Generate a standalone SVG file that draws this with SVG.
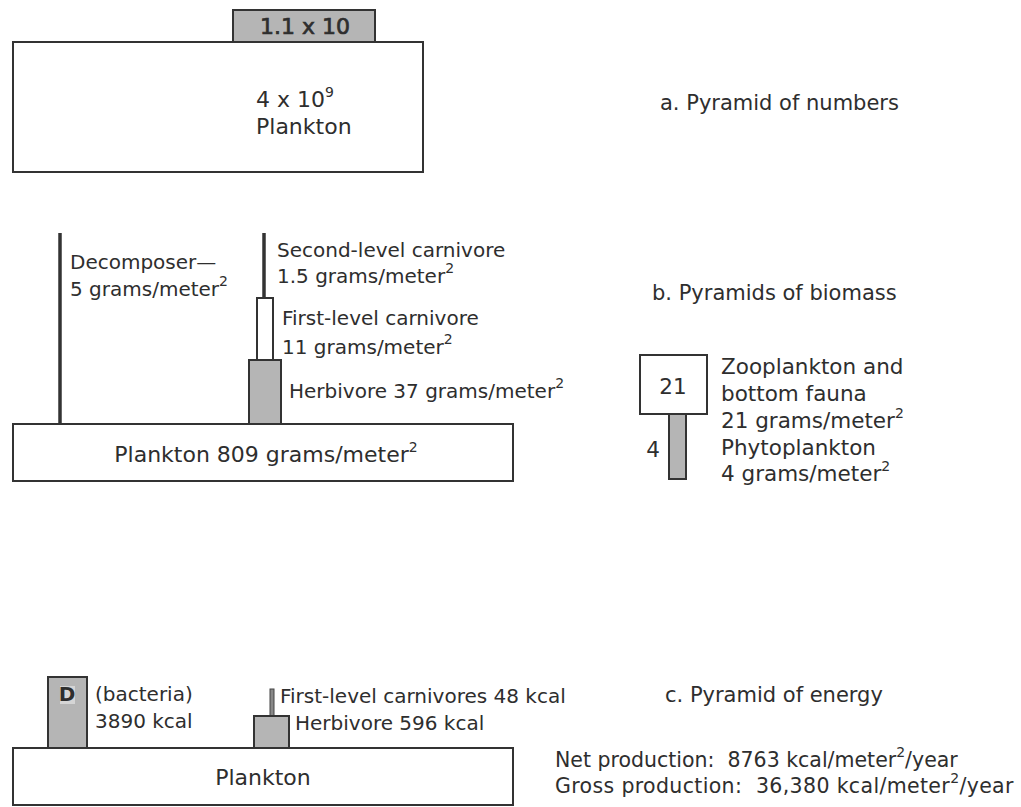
<svg xmlns="http://www.w3.org/2000/svg" width="1021" height="807" viewBox="0 0 1021 807">
<style>
text{font-family:"DejaVu Sans","Liberation Sans",sans-serif;font-size:20px;fill:#2e2e2e}
.lbl{font-size:21px}
.big{font-size:22px}
.rt{font-size:21.5px}
.box{fill:#fff;stroke:#333;stroke-width:2}
.gray{fill:#b5b5b5;stroke:#333;stroke-width:2}
.bar{stroke:#333;stroke-width:3.5}
.sup{font-size:14px}
</style>
<rect width="1021" height="807" fill="#fff"/>
<g id="numbers">
<rect id="a-top" class="gray" x="233" y="10" width="142" height="32"/>
<text x="305" y="34" text-anchor="middle" style="font-size:22px;stroke:#2e2e2e;stroke-width:0.7">1.1 x 10</text>
<rect id="a-plankton" class="box" x="13" y="42" width="410" height="130"/>
<text class="big" x="256" y="107">4 x 10<tspan class="sup" dy="-10">9</tspan></text>
<text class="big" x="256" y="134">Plankton</text>
<text class="lbl" x="660" y="110">a. Pyramid of numbers</text>
</g>
<g id="biomass">
<g id="decomposer">
<line class="bar" x1="60" y1="233" x2="60" y2="424"/>
<text x="70" y="269">Decomposer—</text>
<text x="70" y="296">5 grams/meter<tspan class="sup" dy="-10">2</tspan></text>
</g>
<g id="second-carnivore">
<line class="bar" x1="264" y1="233" x2="264" y2="298"/>
<text x="277" y="257">Second-level carnivore</text>
<text x="277" y="283">1.5 grams/meter<tspan class="sup" dy="-10">2</tspan></text>
</g>
<g id="first-carnivore">
<rect class="box" x="257" y="298" width="16" height="62"/>
<text x="282" y="325">First-level carnivore</text>
<text x="282" y="354">11 grams/meter<tspan class="sup" dy="-10">2</tspan></text>
</g>
<g id="herbivore">
<rect class="gray" x="249" y="360" width="32" height="64"/>
<text x="289" y="398">Herbivore 37 grams/meter<tspan class="sup" dy="-10">2</tspan></text>
</g>
<g id="plankton-b">
<rect class="box" x="13" y="424" width="500" height="57"/>
<text class="big" x="266" y="462" text-anchor="middle">Plankton 809 grams/meter<tspan class="sup" dy="-10">2</tspan></text>
</g>
<text class="lbl" x="652" y="300">b. Pyramids of biomass</text>
<g id="zooplankton">
<rect class="box" x="640" y="355" width="67" height="59"/>
<text class="rt" x="673" y="394" text-anchor="middle">21</text>
<text class="rt" x="721" y="374">Zooplankton and</text>
<text class="rt" x="721" y="401">bottom fauna</text>
<text class="rt" x="721" y="428">21 grams/meter<tspan class="sup" dy="-10">2</tspan></text>
</g>
<g id="phytoplankton">
<rect class="gray" x="669" y="414" width="17" height="65"/>
<text class="rt" x="653" y="457" text-anchor="middle">4</text>
<text class="rt" x="721" y="455">Phytoplankton</text>
<text class="rt" x="721" y="481">4 grams/meter<tspan class="sup" dy="-10">2</tspan></text>
</g>
</g>
<g id="energy">
<g id="decomposer-c">
<rect class="gray" x="48" y="677" width="39" height="71"/>
<rect x="60" y="686" width="15" height="18" fill="#d5d5d5"/>
<text x="67" y="701" text-anchor="middle" style="font-weight:bold">D</text>
<text x="95" y="701">(bacteria)</text>
<text x="95" y="728">3890 kcal</text>
</g>
<g id="carnivore-c">
<rect x="270" y="689" width="4" height="27" fill="#888" stroke="#444" stroke-width="1"/>
<text x="280" y="703">First-level carnivores 48 kcal</text>
</g>
<g id="herbivore-c">
<rect class="gray" x="254" y="716" width="35" height="32"/>
<text x="295" y="730">Herbivore 596 kcal</text>
</g>
<g id="plankton-c">
<rect class="box" x="13" y="748" width="500" height="57"/>
<text class="big" x="263" y="785" text-anchor="middle">Plankton</text>
</g>
<text class="lbl" x="665" y="702">c. Pyramid of energy</text>
<text x="555" y="767" style="font-size:20.5px">Net production:&#160; 8763 kcal/meter<tspan class="sup" dy="-10">2</tspan><tspan dy="10">/year</tspan></text>
<text x="555" y="793" style="font-size:20.5px;letter-spacing:0.35px">Gross production:&#160; 36,380 kcal/meter<tspan class="sup" dy="-10">2</tspan><tspan dy="10">/year</tspan></text>
</g>
<g id="connectors"></g>
</svg>
